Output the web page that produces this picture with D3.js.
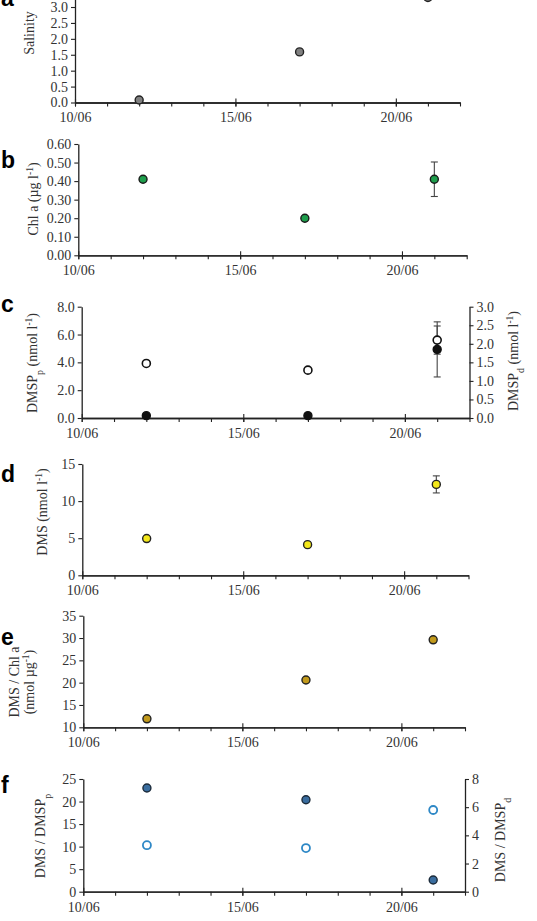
<!DOCTYPE html>
<html>
<head>
<meta charset="utf-8">
<script src="https://cdn.jsdelivr.net/npm/d3@7"></script>
<style>
  body { margin: 0; background: #fff; }
  svg { display: block; }
</style>
</head>
<body>
<svg id="chart" width="537" height="921"></svg>
<script>
// ---- data ----
const sampleDates = ["2013-06-12", "2013-06-17", "2013-06-21"];
const xTickDates = ["2013-06-10", "2013-06-15", "2013-06-20"];
const xDomain = ["2013-06-10", "2013-06-22"];

const salinity = [0.08, 1.59, 3.3];
const chlA = [0.41, 0.20, 0.41];
const chlAErr = [0, 0, 0.093];
const dmspP = [0.17, 0.17, 4.93];
const dmspPErr = [0, 0, 1.98];
const dmspD = [1.47, 1.29, 2.10];
const dmspDErr = [0, 0, 0.38];
const dms = [4.95, 4.13, 12.25];
const dmsErr = [0, 0, 1.15];
const dmsPerChl = [11.9, 20.6, 29.6];
const dmsPerDmspP = [23.0, 20.4, 2.6];
const dmsPerDmspD = [3.3, 3.1, 5.8];

const salinityTicks = [0, 0.5, 1, 1.5, 2, 2.5, 3];
const chlTicks = [0, 0.1, 0.2, 0.3, 0.4, 0.5, 0.6];
const dmspPTicks = [0, 2, 4, 6, 8];
const dmspDTicks = [0, 0.5, 1, 1.5, 2, 2.5, 3];
const dmsTicks = [0, 5, 10, 15];
const dmsChlTicks = [10, 15, 20, 25, 30, 35];
const ratioPTicks = [0, 5, 10, 15, 20, 25];
const ratioDTicks = [0, 2, 4, 6, 8];

const parseDate = d3.timeParse("%Y-%m-%d");
const dates = sampleDates.map(parseDate);

const svg = d3.select("#chart");
const serif = "'Liberation Serif', 'DejaVu Serif', serif";
const axisColor = "#222";
const textColor = "#333";

// ---- panel layout ----
const panels = [
    {
        letter: "a", letterY: 5.5,
        left: 75, right: 460, top: -8.9, bottom: 102.5,
        yDomain: [0, 3.5], yTicks: salinityTicks, fmt: ".1f",
        title: { x: 29, y: 33, lines: [[["Salinity"]]] },
        series: [{ values: salinity, fill: "#808080", stroke: "#222" }]
    },
    {
        letter: "b", letterY: 168,
        left: 78.3, right: 466.7, top: 144, bottom: 255.3,
        yDomain: [0, 0.6], yTicks: chlTicks, fmt: ".2f",
        title: { x: 33, y: 199, lines: [[["Chl a (\u00b5g l"], ["-1", "sup"], [")"]]] },
        series: [{ values: chlA, err: chlAErr, fill: "#1e9e4c", stroke: "#1a1a1a" }]
    },
    {
        letter: "c", letterY: 311.7,
        left: 81.7, right: 469.5, top: 306.7, bottom: 418,
        yDomain: [0, 8], yTicks: dmspPTicks, fmt: ".1f",
        yDomainR: [0, 3], yTicksR: dmspDTicks, fmtR: ".1f",
        title: { x: 32, y: 363, lines: [[["DMSP"], ["p", "sub"], [" (nmol l"], ["-1", "sup"], [")"]]] },
        titleR: { x: 513, y: 361, lines: [[["DMSP"], ["d", "sub"], [" (nmol l"], ["-1", "sup"], [")"]]] },
        series: [
            { values: dmspP, err: dmspPErr, fill: "#111", stroke: "#111" },
            { values: dmspD, err: dmspDErr, fill: "#fff", stroke: "#111", right: true, sw: 1.6 }
        ]
    },
    {
        letter: "d", letterY: 482,
        left: 82.3, right: 468.5, top: 464, bottom: 575.3,
        yDomain: [0, 15], yTicks: dmsTicks, fmt: "d",
        title: { x: 42, y: 512, lines: [[["DMS (nmol l"], ["-1", "sup"], [")"]]] },
        series: [{ values: dms, err: dmsErr, fill: "#f4e81a", stroke: "#222" }]
    },
    {
        letter: "e", letterY: 645,
        left: 83.3, right: 465, top: 615.7, bottom: 727.3,
        yDomain: [10, 35], yTicks: dmsChlTicks, fmt: "d",
        title: { x: 22, y: 682, lines: [[["DMS / Chl a"]], [["(nmol \u00b5g"], ["-1", "sup"], [")"]]] },
        series: [{ values: dmsPerChl, fill: "#c29a1c", stroke: "#222" }]
    },
    {
        letter: "f", letterY: 793,
        left: 83.3, right: 465, top: 779, bottom: 891.7,
        yDomain: [0, 25], yTicks: ratioPTicks, fmt: "d",
        yDomainR: [0, 8], yTicksR: ratioDTicks, fmtR: "d",
        title: { x: 40, y: 836, lines: [[["DMS / DMSP"], ["p", "sub"]]] },
        titleR: { x: 500, y: 840, lines: [[["DMS / DMSP"], ["d", "sub"]]] },
        series: [
            { values: dmsPerDmspD, fill: "#fff", stroke: "#2e88c6", right: true, sw: 1.8 },
            { values: dmsPerDmspP, fill: "#3a6d9f", stroke: "#1c2b3a" }
        ]
    }
];

function styleAxis(sel) {
    sel.select(".domain").attr("stroke", axisColor).attr("stroke-width", 1.3);
    sel.selectAll(".tick line").attr("stroke", axisColor).attr("stroke-width", 1.1);
    sel.selectAll("text")
        .attr("font-family", serif)
        .attr("font-size", 14)
        .attr("fill", textColor);
}

function addTitle(p, t) {
    const lineGap = 15;
    const n = t.lines.length;
    t.lines.forEach((parts, i) => {
        const cx = t.x + (i - (n - 1) / 2) * lineGap;
        const text = svg.append("text")
            .attr("transform", `translate(${cx},${t.y}) rotate(-90)`)
            .attr("text-anchor", "middle")
            .attr("dy", "0.35em")
            .attr("font-family", serif)
            .attr("font-size", 14)
            .attr("fill", textColor);
        parts.forEach(([s, kind]) => {
            const ts = text.append("tspan").text(s);
            if (kind === "sup") ts.attr("baseline-shift", "super").attr("font-size", 9.5);
            if (kind === "sub") ts.attr("baseline-shift", "sub").attr("font-size", 10);
        });
    });
}

function drawPanel(p) {
    const x = d3.scaleTime()
        .domain(xDomain.map(parseDate))
        .range([p.left, p.right]);
    const y = d3.scaleLinear().domain(p.yDomain).range([p.bottom, p.top]);
    const yR = p.yDomainR ? d3.scaleLinear().domain(p.yDomainR).range([p.bottom, p.top]) : null;

    // daily minor ticks
    const minor = svg.append("g")
        .attr("transform", `translate(0,${p.bottom})`)
        .call(d3.axisBottom(x)
            .tickValues(d3.timeDay.range(parseDate(xDomain[0]), d3.timeDay.offset(parseDate(xDomain[1]), 1)))
            .tickFormat("")
            .tickSize(4)
            .tickSizeOuter(0));
    styleAxis(minor);

    // labelled major ticks, crossing the axis
    const major = svg.append("g")
        .attr("transform", `translate(0,${p.bottom})`)
        .call(d3.axisBottom(x)
            .tickValues(xTickDates.map(parseDate))
            .tickFormat(d3.timeFormat("%d/%m"))
            .tickSize(4)
            .tickPadding(6)
            .tickSizeOuter(0));
    major.selectAll(".tick line").attr("y1", -4);
    styleAxis(major);

    const yAxis = svg.append("g")
        .attr("transform", `translate(${p.left},0)`)
        .call(d3.axisLeft(y)
            .tickValues(p.yTicks)
            .tickFormat(d3.format(p.fmt))
            .tickSize(4)
            .tickPadding(3)
            .tickSizeOuter(0));
    styleAxis(yAxis);

    if (yR) {
        const yAxisR = svg.append("g")
            .attr("transform", `translate(${p.right},0)`)
            .call(d3.axisRight(yR)
                .tickValues(p.yTicksR)
                .tickFormat(d3.format(p.fmtR))
                .tickSize(4)
                .tickPadding(3)
                .tickSizeOuter(0));
        styleAxis(yAxisR);
        addTitle(p, p.titleR);
    }
    addTitle(p, p.title);

    // error bars first, markers on top
    p.series.forEach(s => {
        const sy = s.right ? yR : y;
        if (!s.err) return;
        const rows = dates.map((d, i) => ({ d: d, v: s.values[i], e: s.err[i] })).filter(r => r.e > 0);
        const eb = svg.append("g").attr("stroke", "#444").attr("stroke-width", 1.1);
        rows.forEach(r => {
            const cx = x(r.d);
            eb.append("line").attr("x1", cx).attr("x2", cx).attr("y1", sy(r.v - r.e)).attr("y2", sy(r.v + r.e));
            [r.v - r.e, r.v + r.e].forEach(v => {
                eb.append("line").attr("x1", cx - 3.5).attr("x2", cx + 3.5).attr("y1", sy(v)).attr("y2", sy(v));
            });
        });
    });

    p.series.forEach(s => {
        const sy = s.right ? yR : y;
        svg.append("g").selectAll("circle")
            .data(s.values)
            .join("circle")
            .attr("cx", (d, i) => x(dates[i]))
            .attr("cy", d => sy(d))
            .attr("r", 4)
            .attr("fill", s.fill)
            .attr("stroke", s.stroke)
            .attr("stroke-width", s.sw || 1.4);
    });

    svg.append("text")
        .attr("x", 1)
        .attr("y", p.letterY)
        .attr("font-family", "'Liberation Sans', Arial, sans-serif")
        .attr("font-weight", "bold")
        .attr("font-size", 23)
        .attr("fill", "#000")
        .text(p.letter);
}

panels.forEach(drawPanel);
</script>
</body>
</html>
